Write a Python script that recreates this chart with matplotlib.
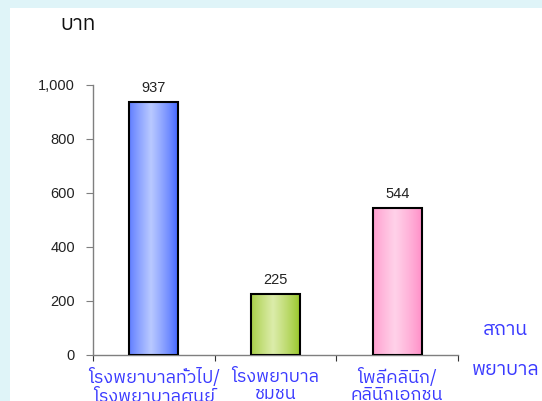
import matplotlib
matplotlib.use("Agg")
import matplotlib.pyplot as plt
import numpy as np
from matplotlib import font_manager
from matplotlib.ft2font import FT2Font
from matplotlib.patches import Rectangle

# donnees
categories = ["โรงพยาบาลทั่วไป/\nโรงพยาบาลศูนย์", "โรงพยาบาล\nชุมชน", "โพลีคลินิก/\nคลินิกเอกชน"]
valeurs = [937, 225, 544]
couleurs_bord = ["#4063ff", "#96c525", "#ff8cc6"]
couleurs_centre = ["#b9c9ff", "#dcecaa", "#ffd2e9"]
yticks = [0, 200, 400, 600, 800, 1000]
ytick_labels = ["0", "200", "400", "600", "800", "1,000"]

# police avec les glyphes thai (la plus fine possible)
def poids(f):
    try:
        return int(f.weight)
    except (TypeError, ValueError):
        return {"light": 300, "normal": 400, "regular": 400, "book": 400,
                "medium": 500, "bold": 700}.get(str(f.weight).lower(), 400)

candidats = []
for f in font_manager.fontManager.ttflist:
    try:
        if FT2Font(f.fname).get_char_index(0x0E1A) and f.style == "normal":
            candidats.append(f)
    except Exception:
        pass
candidats = [f for f in candidats if "bold" not in f.fname.lower()] or candidats
police_thai = min(candidats, key=poids).name if candidats else "DejaVu Sans"
police_chiffres = ["Liberation Sans", "DejaVu Sans"]
familles_thai = [police_thai, "DejaVu Sans"]

fig = plt.figure(figsize=(5.42, 4.01), dpi=100, facecolor="#dff4f8")
fig.patches.append(Rectangle((10 / 542, 0), 1, 1 - 8 / 401, transform=fig.transFigure,
                             facecolor="white", edgecolor="none", zorder=-10))

ax = fig.add_axes([93 / 542, (401 - 355) / 401, 365 / 542, 270 / 401])
ax.set_facecolor("none")
ax.set_zorder(5)

x = np.arange(len(valeurs))
largeur = 0.40
barres = ax.bar(x, valeurs, width=largeur, facecolor="none", edgecolor="black", linewidth=1.5, zorder=3)

# degrade horizontal dans chaque barre
t = np.linspace(0, 1, 200)
profil = np.clip(1 - np.abs(t - 0.45) / 0.55, 0, 1) ** 0.8
for i, b in enumerate(barres):
    c1 = np.array(matplotlib.colors.to_rgb(couleurs_bord[i]))
    c2 = np.array(matplotlib.colors.to_rgb(couleurs_centre[i]))
    img = c1[None, :] + (c2 - c1)[None, :] * profil[:, None]
    img = img[None, :, :]
    im = ax.imshow(img, extent=(b.get_x(), b.get_x() + b.get_width(), 0, b.get_height()),
                   aspect="auto", zorder=2, interpolation="bilinear")
    im.set_clip_path(b)
    ax.text(x[i], valeurs[i] + 25, str(valeurs[i]), ha="center", va="bottom",
            fontsize=10.5, color="#222222", family=police_chiffres)

ax.set_xlim(-0.5, 2.5)
ax.set_ylim(0, 1000)

for s in ["top", "right"]:
    ax.spines[s].set_visible(False)
for s in ["left", "bottom"]:
    ax.spines[s].set_color("#7f7f7f")
    ax.spines[s].set_linewidth(1)

ax.set_yticks(yticks)
ax.set_yticklabels(ytick_labels, family=police_chiffres, fontsize=10.5, color="#222222")
ax.tick_params(axis="y", direction="out", length=5, color="#7f7f7f", pad=8)

ax.set_xticks([-0.5, 0.5, 1.5, 2.5])
ax.set_xticklabels([])
ax.tick_params(axis="x", which="major", direction="out", length=4, color="#333333")
ax.set_xticks(x, minor=True)
ax.set_xticklabels(categories, minor=True, family=familles_thai, fontsize=13,
                   color="#3a3aff", linespacing=0.95)
ax.tick_params(axis="x", which="minor", length=0, pad=9)

fig.text(60 / 542, 1 - 25 / 401, "บาท", family=familles_thai, fontsize=15,
         color="#111111", ha="left", va="center")
fig.text(505 / 542, 1 - 330 / 401, "สถาน", family=familles_thai, fontsize=14,
         color="#3a3aff", ha="center", va="center")
fig.text(506 / 542, 1 - 370 / 401, "พยาบาล", family=familles_thai, fontsize=14,
         color="#3a3aff", ha="center", va="center")

fig.savefig("out.png", dpi=100, facecolor=fig.get_facecolor())
